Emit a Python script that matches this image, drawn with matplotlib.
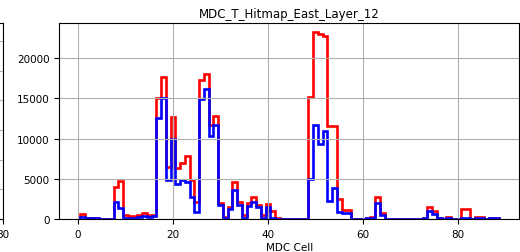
import numpy as np
import matplotlib
matplotlib.use("Agg")
import matplotlib.pyplot as plt

# MDC cell numbers 1..88, hits per cell for the two layers of the hitmap
cells = np.arange(1, 89)

red_hits = [
    600, 150, 150, 150, 0, 0, 0, 4050, 4700, 500,
    400, 400, 500, 800, 500, 550, 15050, 17700, 6500, 12700,
    6300, 7000, 7800, 4800, 2100, 17300, 18000, 11750, 12750, 2050,
    300, 1450, 4650, 2100, 450, 2050, 2700, 1750, 450, 1850,
    1050, 100, 0, 0, 0, 0, 0, 0, 15200, 23200,
    23000, 22700, 11550, 11550, 2500, 1100, 1100, 0, 0, 0,
    100, 250, 2800, 750, 0, 0, 0, 0, 0, 0,
    0, 0, 200, 1450, 950, 200, 0, 250, 0, 0,
    1250, 1250, 50, 250, 250, 0, 150, 150,
]

blue_hits = [
    300, 80, 80, 80, 0, 0, 0, 2150, 1350, 200,
    200, 200, 250, 420, 300, 330, 12550, 15000, 4800, 10000,
    4400, 4800, 4600, 2700, 850, 14900, 16200, 10350, 11750, 1750,
    150, 1300, 3650, 1800, 200, 1650, 2150, 1450, 200, 1450,
    200, 50, 0, 0, 0, 0, 0, 0, 5000, 11750,
    9300, 11000, 2200, 3900, 850, 750, 750, 0, 0, 0,
    80, 200, 2050, 450, 0, 0, 0, 0, 0, 0,
    0, 0, 150, 1050, 600, 150, 0, 150, 0, 0,
    100, 100, 0, 150, 150, 0, 120, 120,
]

title = "MDC_T_Hitmap_East_Layer_12"


def draw_neighbour(fig):
    """
    Only the right edge of the previous panel shows in the crop.
    """
    ax = fig.add_axes([-0.8, 0.130, 0.8058, 0.775])
    ax.set_xlim(0, 80)
    ax.set_ylim(0, 6.6)
    ax.set_xticks([80])
    ax.set_yticks(range(7))
    ax.grid(True)
    ax.tick_params(labelsize=7.5, labelleft=False)
    return ax


def draw_hitmap(fig):
    """
    Step histogram of hits per MDC cell, red and blue layers.
    """
    ax = fig.add_axes([0.1144, 0.130, 0.8846, 0.775])
    edges = np.append(cells - 0.5, cells[-1] + 0.5)

    ax.stairs(red_hits, edges, color='r', lw=1.9)
    ax.stairs(blue_hits, edges, color='b', lw=1.9)

    ax.grid(True)
    ax.set_xlabel('MDC Cell', fontsize=7.5, labelpad=2)
    ax.set_title(title, fontsize=8.5, pad=4)
    ax.tick_params(labelsize=7.5)
    return ax


def main():
    fig = plt.figure(figsize=(5.2, 2.53), dpi=100)
    draw_neighbour(fig)
    draw_hitmap(fig)
    fig.savefig('out.png', dpi=100)


if __name__ == '__main__':
    main()
